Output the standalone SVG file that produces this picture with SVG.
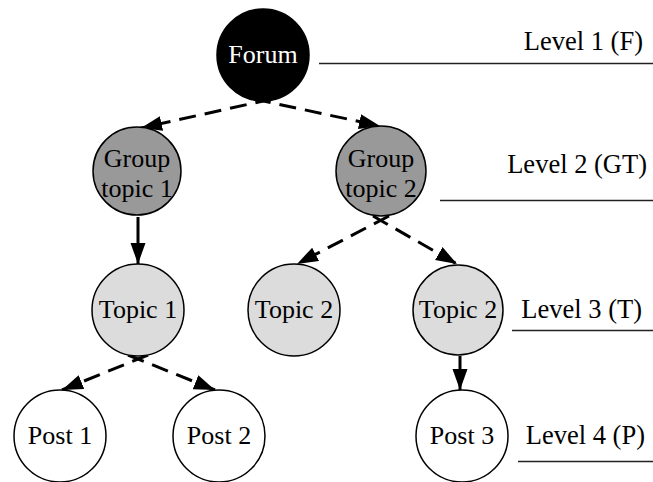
<svg xmlns="http://www.w3.org/2000/svg" width="653" height="482" viewBox="0 0 653 482">
<style>
.n{stroke:#000;stroke-width:1.5}
.t{font-family:"Liberation Serif","Times New Roman",serif;font-size:26px;text-anchor:middle;fill:#000}
.lv{font-family:"Liberation Serif","Times New Roman",serif;font-size:26.5px;fill:#000;text-anchor:end}
.e{stroke:#000;stroke-width:3;fill:none}
.d{stroke-dasharray:17 9}
.ll{stroke:#222;stroke-width:1.3}
</style>
<defs>
<marker id="ah" markerUnits="userSpaceOnUse" markerWidth="22" markerHeight="16" refX="21" refY="7.5" orient="auto">
<path d="M0,0 L21,7.5 L0,15 z" fill="#000"/>
</marker>
</defs>
<rect width="653" height="482" fill="#fff"/>
<g id="connectors">
<line class="e d" x1="272" y1="99" x2="141" y2="128" marker-end="url(#ah)"/>
<line class="e d" x1="254" y1="99" x2="380" y2="126" marker-end="url(#ah)"/>
<line class="e" x1="138" y1="217" x2="138" y2="264" marker-end="url(#ah)"/>
<line class="e d" x1="389" y1="216" x2="297" y2="264" marker-end="url(#ah)"/>
<line class="e d" x1="373" y1="216" x2="457" y2="264" marker-end="url(#ah)"/>
<line class="e d" x1="148" y1="355" x2="62" y2="390" marker-end="url(#ah)"/>
<line class="e d" x1="128" y1="355" x2="215" y2="390" marker-end="url(#ah)"/>
<line class="e" x1="460" y1="356" x2="460" y2="390" marker-end="url(#ah)"/>
</g>
<g id="forum"><circle class="n" cx="263" cy="55" r="46" fill="#000"/><text class="t" x="263" y="63" style="fill:#fff">Forum</text></g>
<g id="gt1"><circle class="n" cx="137" cy="171" r="44" fill="#999"/><text class="t" x="137" y="167">Group</text><text class="t" x="137" y="197">topic 1</text></g>
<g id="gt2"><circle class="n" cx="381" cy="171" r="45" fill="#999"/><text class="t" x="381" y="167">Group</text><text class="t" x="381" y="197">topic 2</text></g>
<g id="topic1"><circle class="n" cx="138" cy="310" r="46" fill="#dcdcdc"/><text class="t" x="138" y="318">Topic 1</text></g>
<g id="topic2a"><circle class="n" cx="294" cy="310" r="46" fill="#dcdcdc"/><text class="t" x="294" y="318">Topic 2</text></g>
<g id="topic2b"><circle class="n" cx="458" cy="310" r="45" fill="#dcdcdc"/><text class="t" x="458" y="318">Topic 2</text></g>
<g id="post1"><circle class="n" cx="60" cy="436" r="46" fill="#fff"/><text class="t" x="60" y="444">Post 1</text></g>
<g id="post2"><circle class="n" cx="219" cy="436" r="46" fill="#fff"/><text class="t" x="219" y="444">Post 2</text></g>
<g id="post3"><circle class="n" cx="462" cy="436" r="46" fill="#fff"/><text class="t" x="462" y="444">Post 3</text></g>
<g id="levels">
<text class="lv" x="643" y="50">Level 1 (F)</text>
<line class="ll" x1="319" y1="63.5" x2="653" y2="63.5"/>
<text class="lv" x="647" y="173">Level 2 (GT)</text>
<line class="ll" x1="440" y1="200.5" x2="653" y2="200.5"/>
<text class="lv" x="642" y="318">Level 3 (T)</text>
<line class="ll" x1="512" y1="330.5" x2="653" y2="330.5"/>
<text class="lv" x="645" y="444">Level 4 (P)</text>
<line class="ll" x1="518" y1="461.5" x2="653" y2="461.5"/>
</g>
</svg>
